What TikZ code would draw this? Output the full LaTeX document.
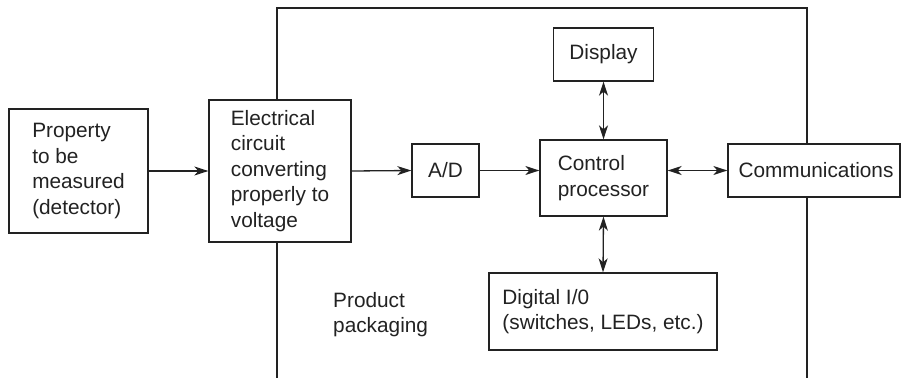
\documentclass[tikz,border=0pt]{standalone}
\usepackage{fontspec}
\setmainfont{Liberation Sans}
\usetikzlibrary{arrows.meta}
\definecolor{ink}{HTML}{222222}
\begin{document}
\begin{tikzpicture}[x=1pt,y=-1pt,
  every node/.style={font=\fontsize{20.8}{25.5}\selectfont, text=ink},
  blk/.style={draw=ink, line width=1.3pt, fill=white, align=left, inner sep=0pt},
  ln/.style={draw=ink, line width=1.3pt},
  arr/.style={ln, -{Stealth[length=14pt,width=9pt,inset=4pt]}},
  darr/.style={ln, {Stealth[length=14pt,width=9pt,inset=4pt]}-{Stealth[length=14pt,width=9pt,inset=4pt]}}]
\useasboundingbox (0,0) rectangle (901,380);
% frame coordinates
\coordinate (fTL) at (277,8);
\coordinate (fTR) at (807,8);
\coordinate (fBL) at (277,378);
\coordinate (fBR) at (807,378);
% blocks
\node[blk, minimum width=139pt, minimum height=124pt] (prop) at (78.5,171) {Property\\to be\\measured\\(detector)};
\node[blk, minimum width=142pt, minimum height=142pt] (elec) at (280,171) {Electrical\\circuit\\converting\\properly to\\voltage};
\node[blk, minimum width=67pt, minimum height=53pt] (ad) at (445.5,170.5) {A/D};
\node[blk, minimum width=127pt, minimum height=76pt] (ctrl) at (603.5,178) {Control\\processor};
\node[blk, minimum width=100pt, minimum height=53pt] (disp) at (603.5,54.5) {Display};
\node[blk, minimum width=172pt, minimum height=53pt] (comm) at (814,170.5) {\hspace*{4pt}Communications};
\node[blk, minimum width=228pt, minimum height=77pt] (dig) at (603,311.5) {Digital I/0\\(switches, LEDs, etc.)};
\node[align=left, inner sep=0pt, anchor=north west] (pack) at (333,292) {Product\\packaging};
% frame
\draw[ln] (elec.north -| fTL) -- (fTL) -- (fTR) -- (comm.north -| fTR);
\draw[ln] (elec.south -| fTL) -- (fBL);
\draw[ln] (comm.south -| fTR) -- (fBR);
% connectors
\draw[arr] (prop.east) -- (elec.west);
\draw[arr] (elec.east) -- (ad.west);
\draw[arr] (ad.east) -- (ad.east -| ctrl.west);
\draw[darr] (ctrl.east |- comm.west) -- (comm.west);
\draw[darr] (disp.south) -- (ctrl.north);
\draw[darr] (ctrl.south) -- (dig.north);
\end{tikzpicture}
\end{document}
